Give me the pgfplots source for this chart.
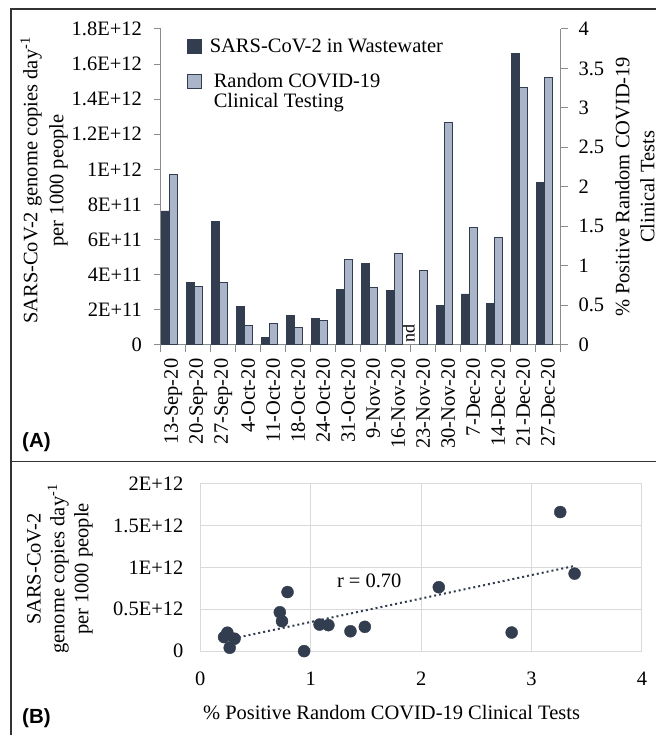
\documentclass[border=0pt]{standalone}
\usepackage{fontspec}
\setmainfont{Liberation Serif}
\newfontfamily\arialfont{Liberation Sans}
\usepackage{pgfplots}
\pgfplotsset{compat=1.18}
\definecolor{darkbar}{HTML}{323D4F}
\definecolor{lightbar}{HTML}{AAB5CA}
\definecolor{axgray}{HTML}{8C8C8C}
\definecolor{gridgray}{HTML}{D9D9D9}

\pgfplotsset{
  /pgf/number format/assume math mode=true,
  every axis/.append style={scale only axis, font=\fontsize{20.5bp}{23bp}\selectfont},
}

\begin{document}
\fontsize{20.5bp}{23bp}\selectfont
\begin{tikzpicture}[x=1bp,y=1bp]
\path (0,0) rectangle (657,736);
\draw[line width=1.3bp, black!80] (11,0) -- (11,727) -- (657,727);
\draw[line width=1.3bp, black!80] (11,274) -- (657,274);
\node[font=\arialfont\bfseries, anchor=west, inner sep=0pt] at (22,293) {(A)};
\node[font=\arialfont\bfseries, anchor=west, inner sep=0pt] at (22,17) {(B)};

% (A) wastewater, left axis
\begin{axis}[at={(161bp,391bp)}, anchor=south west, width=400bp, height=316bp,
  ymin=0, ymax=1.8e12, xmin=-0.5, xmax=15.5,
  axis y line*=left, axis x line*=bottom,
  axis line style={axgray, line width=1bp},
  ytick={0,2e11,4e11,6e11,8e11,1e12,1.2e12,1.4e12,1.6e12,1.8e12},
  yticklabels={0,2E+11,4E+11,6E+11,8E+11,1E+12,1.2E+12,1.4E+12,1.6E+12,1.8E+12},
  scaled y ticks=false,
  xtick={0,...,15},
  xticklabels={13-Sep-20,20-Sep-20,27-Sep-20,4-Oct-20,11-Oct-20,18-Oct-20,24-Oct-20,31-Oct-20,9-Nov-20,16-Nov-20,23-Nov-20,30-Nov-20,7-Dec-20,14-Dec-20,21-Dec-20,27-Dec-20},
  major x tick style={draw=none},
  minor xtick={-0.5,0.5,...,15.5},
  tick align=outside, major tick length=7bp, minor tick length=7bp,
  tick style={axgray, line width=1bp},
  x tick label style={rotate=90, anchor=east},
  yticklabel style={xshift=-5bp},
  ylabel={SARS-CoV-2 genome copies day\textsuperscript{-1}\\[3bp]per 1000 people},
  ylabel style={align=center, at={(axis description cs:-0.2925,0.52)}, anchor=center},
  ybar, bar width=7.8bp,
]
\addplot[fill=darkbar, draw=darkbar, line width=0.5bp, bar shift=-8bp] coordinates {
(0,7.63e11) (1,3.57e11) (2,7.05e11) (3,2.20e11) (4,0.40e11) (5,1.67e11)
(6,1.48e11) (7,3.17e11) (8,4.64e11) (9,3.10e11) (11,2.22e11) (12,2.90e11)
(13,2.37e11) (14,1.66e12) (15,9.25e11)};
\node[rotate=90, anchor=base west, inner sep=0pt, font=\fontsize{18bp}{20bp}\selectfont]
  at ([xshift=-8.5bp, yshift=1.5bp]axis cs:10,0) {nd};
\end{axis}

% (A) clinical testing, right axis
\begin{axis}[at={(161bp,391bp)}, anchor=south west, width=400bp, height=316bp,
  ymin=0, ymax=4, xmin=-0.5, xmax=15.5,
  axis y line*=right, axis x line=none,
  axis line style={axgray, line width=1bp},
  ytick={0,0.5,...,4},
  yticklabels={0,0.5,1,1.5,2,2.5,3,3.5,4},
  tick align=outside, major tick length=7bp,
  tick style={axgray, line width=1bp},
  yticklabel style={xshift=4bp},
  ylabel={\% Positive Random COVID-19\\[2bp]Clinical Tests},
  ylabel style={align=center, at={(axis description cs:1.186,0.5)}, anchor=center},
  ybar, bar width=7.8bp,
  legend image code/.code={\draw[#1, line width=0.8bp] (0bp,-0.5bp) rectangle (14bp,13.5bp);},
  legend style={draw=none, fill=none, inner sep=0pt, anchor=north west,
    at={(axis description cs:0.065,0.975)}, cells={anchor=base west}, row sep=12bp,
    /tikz/every odd column/.append style={column sep=6bp}},
]
\addlegendimage{fill=darkbar, draw=darkbar}
\addlegendentry{SARS-CoV-2 in Wastewater}
\addplot[fill=lightbar, draw=darkbar, line width=0.8bp, bar shift=0bp] coordinates {
(0,2.16) (1,0.74) (2,0.79) (3,0.245) (4,0.266) (5,0.215) (6,0.31) (7,1.08)
(8,0.72) (9,1.16) (10,0.94) (11,2.82) (12,1.49) (13,1.36) (14,3.26) (15,3.39)};
\addlegendentry{\begin{tabular}[t]{@{\hspace{4bp}}l@{}}Random COVID-19\\[-3bp]Clinical Testing\end{tabular}}
\end{axis}

% (B) scatter
\begin{axis}[at={(200.5bp,84.3bp)}, anchor=south west, width=442bp, height=167.7bp,
  xmin=0, xmax=4, ymin=0, ymax=2e12,
  xtick={0,1,2,3,4},
  ytick={0,5e11,1e12,1.5e12,2e12},
  yticklabels={0,0.5E+12,1E+12,1.5E+12,2E+12},
  scaled y ticks=false,
  grid=major, grid style={gridgray, line width=1bp},
  axis line style={gridgray, line width=1bp},
  major tick length=0pt,
  yticklabel style={xshift=-10bp},
  xticklabel style={yshift=-14bp},
  xlabel={\% Positive Random COVID-19 Clinical Tests},
  xlabel style={at={(axis description cs:0.433,-0.3655)}, anchor=center},
  ylabel={SARS-CoV-2\\[1bp]genome copies day\textsuperscript{-1}\\[1bp]per 1000 people},
  ylabel style={align=center, at={(axis description cs:-0.318,0.49)}, anchor=center},
]
\addplot[darkbar, line width=2bp, dash pattern=on 2bp off 3bp] coordinates {(0.215,1.28e11) (3.39,1.017e12)};
\addplot[only marks, mark=*, mark size=6bp, mark options={fill=darkbar, draw=darkbar}] coordinates {
(2.16,7.63e11) (0.74,3.57e11) (0.79,7.05e11) (0.245,2.20e11) (0.266,0.40e11)
(0.215,1.67e11) (0.31,1.48e11) (1.08,3.17e11) (0.72,4.64e11) (1.16,3.10e11)
(0.94,0) (2.82,2.22e11) (1.49,2.90e11) (1.36,2.37e11) (3.26,1.66e12) (3.39,9.25e11)};
\node at (axis cs:1.53,8.35e11) {r = 0.70};
\end{axis}
\end{tikzpicture}
\end{document}
